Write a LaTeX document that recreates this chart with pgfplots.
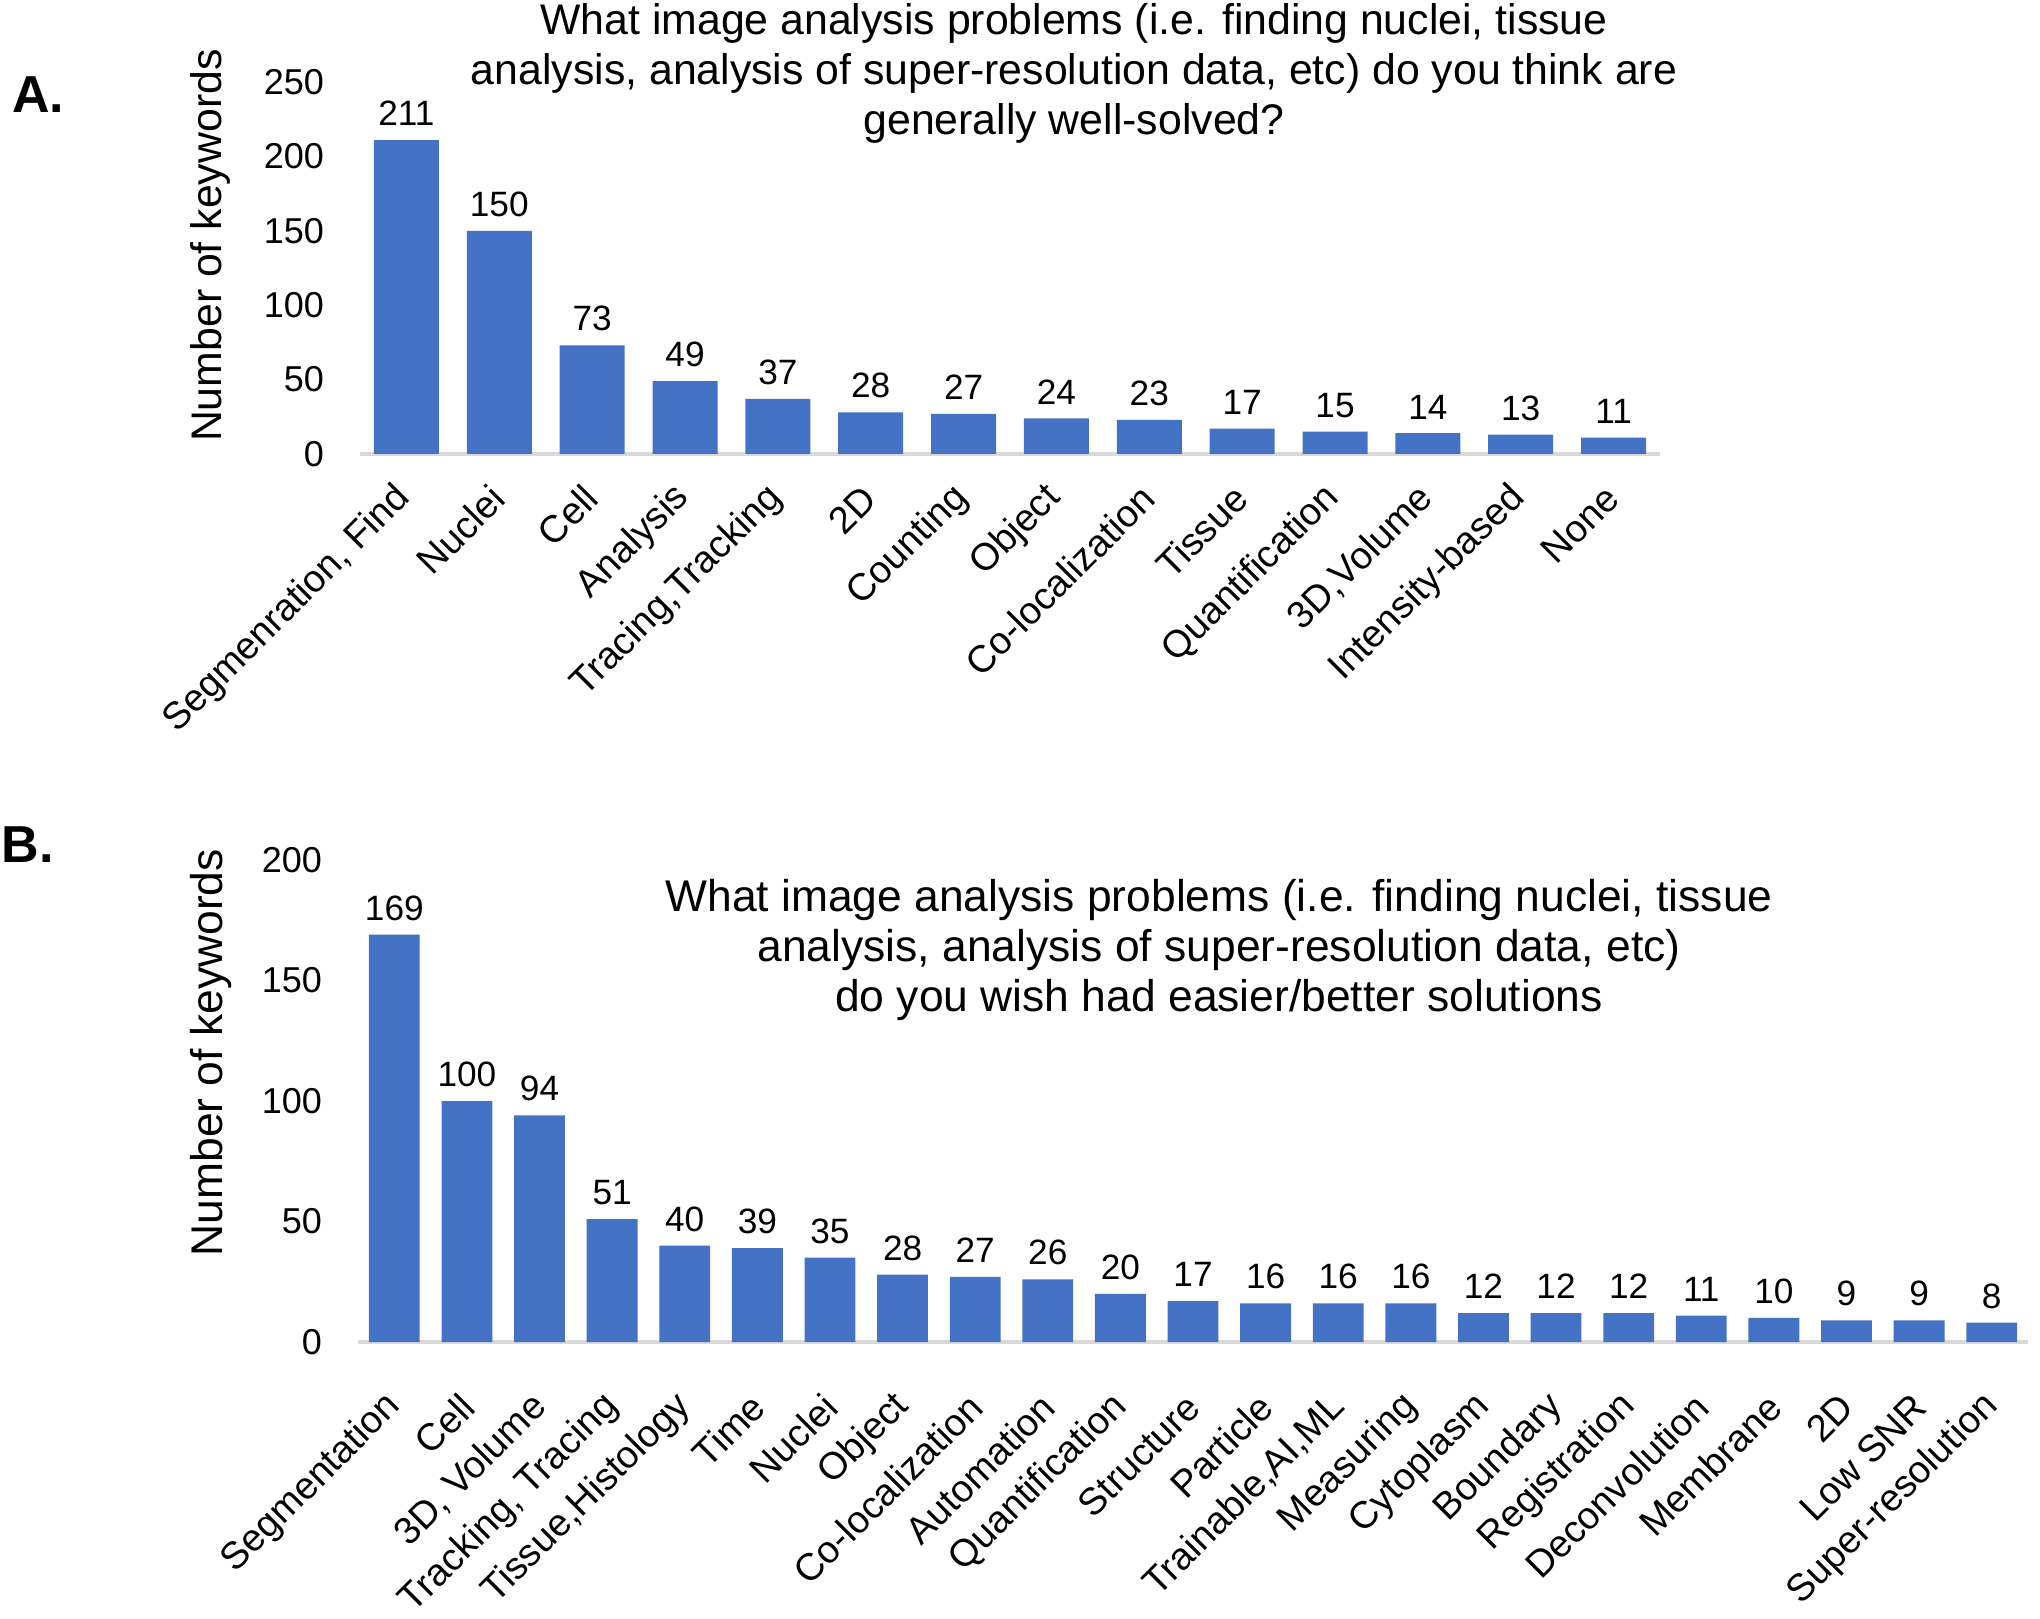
\documentclass[border=0pt]{standalone}
\usepackage{fontspec}
\setmainfont{Liberation Sans}
\usepackage{pgfplots}
\pgfplotsset{compat=1.18}
\definecolor{barblue}{RGB}{68,114,196}
\definecolor{axisgray}{RGB}{217,217,217}
\pgfplotsset{kwbar/.style={
  scale only axis,
  ybar, bar width=0.7,
  axis x line=bottom, axis y line=left,
  y axis line style={draw=none},
  x axis line style={axisgray, line width=1.2pt, -},
  tick style={draw=none},
  major tick length=0pt,
  enlargelimits=false,
  ymin=0,
  /pgf/number format/assume math mode=true,
  yticklabel style={font=\fontsize{9}{10}\selectfont, xshift=-5.5pt},
  ylabel={Number of keywords},
  ylabel style={anchor=center},
  nodes near coords,
  nodes near coords style={font=\fontsize{8.8}{10}\selectfont, black},
}}
\begin{document}
\begin{tikzpicture}
\path[use as bounding box] (0,0) rectangle (510pt,404.5pt);
% Panel A
\begin{axis}[kwbar,
  at={(90pt,291pt)}, anchor=south west,
  width=325pt, height=93pt,
  xmin=-0.5, xmax=13.5, ymax=250,
  ytick={0,50,100,150,200,250},
  xtick={0,...,13},
  xticklabels={{Segmenration, Find},Nuclei,Cell,Analysis,{Tracing,Tracking},2D,Counting,Object,Co-localization,Tissue,Quantification,{3D,Volume},Intensity-based,None},
  xticklabel style={font=\fontsize{9.5}{11}\selectfont, rotate=45, anchor=east, xshift=-3.5pt, yshift=-6.5pt},
  ylabel style={at={(axis description cs:-0.115,0.56)}, font=\fontsize{10.7}{12}\selectfont},
]
\addplot[fill=barblue, draw=none] coordinates {(0,211) (1,150) (2,73) (3,49) (4,37) (5,28) (6,27) (7,24) (8,23) (9,17) (10,15) (11,14) (12,13) (13,11)};
\end{axis}
% Panel B
\begin{axis}[kwbar,
  at={(89.5pt,69pt)}, anchor=south west,
  width=417.5pt, height=120.5pt,
  xmin=-0.5, xmax=22.5, ymax=200,
  ytick={0,50,100,150,200},
  xtick={0,...,22},
  xticklabels={Segmentation,Cell,{3D, Volume},{Tracking, Tracing},{Tissue,Histology},Time,Nuclei,Object,Co-localization,Automation,Quantification,Structure,Particle,{Trainable,AI,ML},Measuring,Cytoplasm,Boundary,Registration,Deconvolution,Membrane,2D,Low SNR,Super-resolution},
  xticklabel style={font=\fontsize{9.5}{11}\selectfont, rotate=45, anchor=east, xshift=-6.8pt, yshift=-10.5pt},
  ylabel style={at={(axis description cs:-0.088,0.60)}, font=\fontsize{11.1}{12}\selectfont},
]
\addplot[fill=barblue, draw=none] coordinates {(0,169) (1,100) (2,94) (3,51) (4,40) (5,39) (6,35) (7,28) (8,27) (9,26) (10,20) (11,17) (12,16) (13,16) (14,16) (15,12) (16,12) (17,12) (18,11) (19,10) (20,9) (21,9) (22,8)};
\end{axis}
% Titles and panel letters
\node[align=center, font=\fontsize{10.7}{12.5}\selectfont] at (268.5pt,386.25pt)
  {What image analysis problems (i.e. finding nuclei, tissue\\analysis, analysis of super-resolution data, etc) do you think are\\generally well-solved?};
\node[align=center, font=\fontsize{11.1}{12.6}\selectfont] at (304.75pt,167pt)
  {What image analysis problems (i.e. finding nuclei, tissue\\analysis, analysis of super-resolution data, etc)\\do you wish had easier/better solutions};
\node[font=\bfseries\fontsize{13}{15}\selectfont] at (9.5pt,380.75pt) {A.};
\node[font=\bfseries\fontsize{13}{15}\selectfont] at (7pt,193.25pt) {B.};
\end{tikzpicture}
\end{document}
